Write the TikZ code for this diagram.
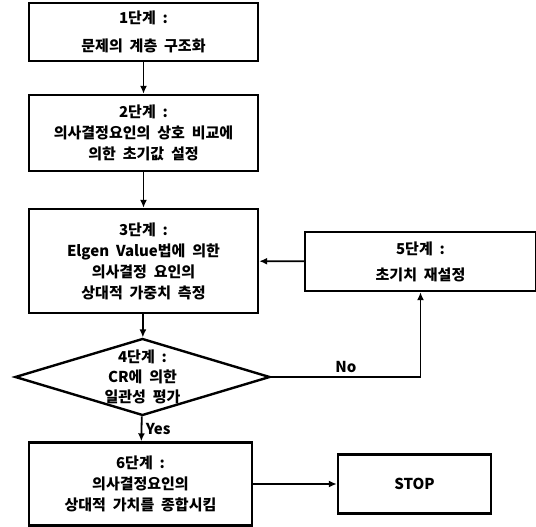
\documentclass[tikz,border=0pt]{standalone}
\usepackage{fontspec}
\setmainfont{Noto Sans CJK KR}[WordSpace=2]
\usetikzlibrary{shapes.geometric}
\usetikzlibrary{arrows.meta}
\usetikzlibrary{positioning}

\begin{document}
\begin{tikzpicture}[x=1pt, y=-1pt,
    stepbox/.style={draw, line width=2.4pt, rectangle, align=center, inner sep=0pt,
        font=\fontsize{15}{21}\selectfont\bfseries},
    decision/.style={draw, line width=2.4pt, diamond, inner sep=0pt, aspect=3.3},
    arr/.style={line width=1.8pt, -{Latex[length=8pt, width=7pt]}}]
    \useasboundingbox (0,0) rectangle (536,527);
    \node[stepbox, minimum width=229pt, minimum height=58pt] (b1) at (143.5,32) {1단계 :\\[7pt]문제의 계층 구조화};
    \node[stepbox, minimum width=229pt, minimum height=76pt] (b2) at (143.5,133) {2단계 :\\의사결정요인의 상호 비교에\\의한 초기값 설정};
    \node[stepbox, minimum width=229pt, minimum height=104pt] (b3) at (143.5,261) {3단계 :\\Elgen Value법에 의한\\의사결정 요인의\\상대적 가중치 측정};
    \node[decision, minimum width=255pt, minimum height=77pt] (d4) at (142.5,377) {};
    \node[align=center, font=\fontsize{15}{20}\selectfont\bfseries] (t4) at (d4) {4단계 :\\CR에 의한\\일관성 평가};
    \node[stepbox, minimum width=231pt, minimum height=59pt] (b5) at (420.5,261.5) {5단계 :\\[5pt]초기치 재설정};
    \node[stepbox, minimum width=223pt, minimum height=83pt] (b6) at (140.5,484) {6단계 :\\의사결정요인의\\상대적 가치를 종합시킴};
    \node[stepbox, minimum width=153pt, minimum height=59pt] (stop) at (414.5,484) {STOP};
    \draw[arr] (b1) -- (b2);
    \draw[arr] (b2) -- (b3);
    \draw[arr] (b3) -- (d4);
    \draw[arr] (d4) -- node[right, font=\fontsize{15}{15}\selectfont\bfseries] {Yes} (b6);
    \draw[arr] (d4.east) -| node[pos=0.25, above, font=\fontsize{15}{15}\selectfont\bfseries] {No} (b5.south);
    \draw[arr] (b5) -- (b3);
    \draw[arr] (b6) -- (stop);
\end{tikzpicture}
\end{document}
